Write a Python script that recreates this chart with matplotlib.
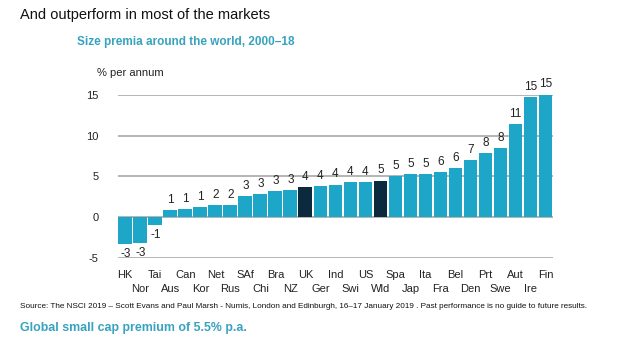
import matplotlib.pyplot as plt
import numpy as np

plt.rcParams['font.family']=['Liberation Sans','DejaVu Sans']

# size premium per market, % per annum, 2000-18
markets=['HK','Nor','Tai','Aus','Can','Kor','Net','Rus','SAf','Chi','Bra','NZ','UK','Ger','Ind',
         'Swi','US','Wld','Spa','Jap','Ita','Fra','Bel','Den','Prt','Swe','Aut','Ire','Fin']
premia=[-3.3,-3.2,-0.9,0.9,1.0,1.2,1.5,1.5,2.6,2.8,3.2,3.3,3.7,3.8,4.0,
        4.3,4.3,4.5,5.0,5.3,5.3,5.55,6.05,7.0,7.85,8.45,11.4,14.7,15.1]
highlight=['UK','Wld']
yticks=[-5,0,5,10,15]

blue='#1ea6c9'
dark='#0b2a3d'
teal='#37a3bf'

fig=plt.figure(figsize=(6.2,3.43),dpi=100)
ax=fig.add_axes([0.190,0.248,0.702,0.475])

x=np.arange(len(markets))
colors=[dark if m in highlight else blue for m in markets]
ax.bar(x,premia,width=0.92,color=colors,zorder=3)

for xi,v in zip(x,premia):
    lab=str(int(np.floor(v+0.5)))
    if v>=0:
        ax.annotate(lab,(xi,v),xytext=(0,3),textcoords='offset points',ha='center',va='bottom',
                    fontsize=8.5,color='#222222',annotation_clip=False)
    else:
        ax.annotate(lab,(xi,v),xytext=(0,-3),textcoords='offset points',ha='center',va='top',
                    fontsize=8.5,color='#222222',annotation_clip=False)

ax.set_ylim(-5,15)
ax.set_xlim(-0.5,len(markets)-0.5)
ax.set_yticks(yticks)
ax.set_yticklabels([str(t) for t in yticks],fontsize=8,color='#222222')

# market names staggered on two rows
ax.set_xticks(x[::2])
ax.set_xticklabels(markets[::2],fontsize=8,color='#222222')
ax.set_xticks(x[1::2],minor=True)
ax.set_xticklabels(markets[1::2],minor=True,fontsize=8,color='#222222')
ax.tick_params(axis='x',which='major',length=0,pad=9)
ax.tick_params(axis='x',which='minor',length=0,pad=19)
ax.tick_params(axis='y',length=0,pad=14)
for s in ax.spines.values():
    s.set_visible(False)
ax.yaxis.grid(True,color='#a8a8a8',linewidth=1.2,zorder=0)
ax.set_axisbelow(True)

fig.text(0.032,0.955,'And outperform in most of the markets',fontsize=10.5,color='#111111',va='center')
fig.text(0.124,0.877,'Size premia around the world, 2000\u201318',fontsize=8.5,fontweight='bold',color=teal,va='center')
fig.text(0.156,0.787,'% per annum',fontsize=8,color='#222222',va='center')
fig.text(0.032,0.105,'Source: The NSCI 2019 \u2013 Scott Evans and Paul Marsh - Numis, London and Edinburgh, 16\u201317 January 2019 . Past performance is no guide to future results.',
         fontsize=5.9,color='#111111',va='center')
fig.text(0.032,0.044,'Global small cap premium of 5.5% p.a.',fontsize=8.9,fontweight='bold',color=teal,va='center')

fig.savefig('out.png',dpi=100)
